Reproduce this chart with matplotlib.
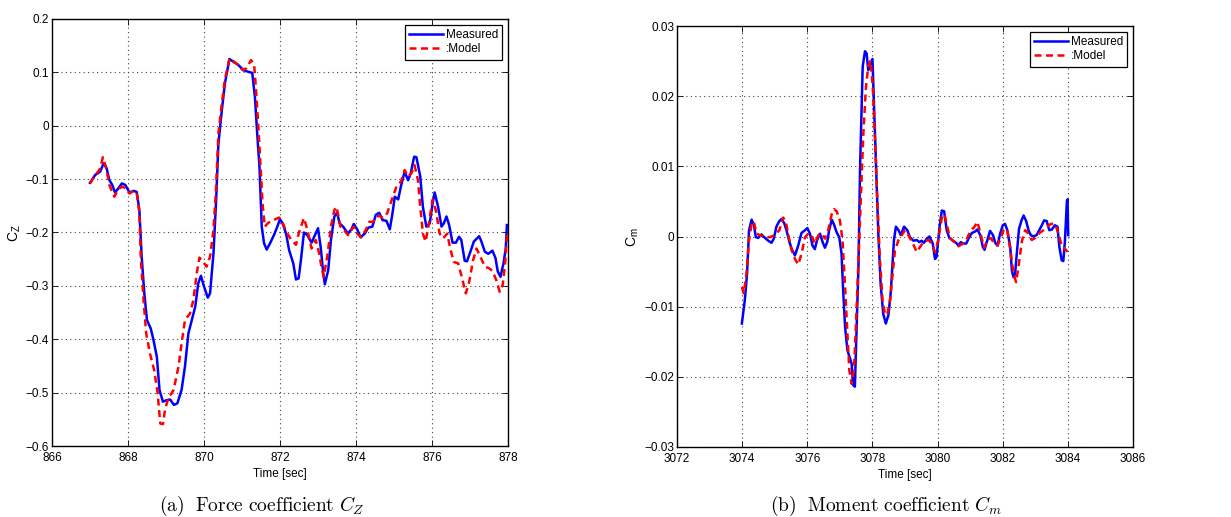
import numpy as np
import matplotlib.pyplot as plt

plt.rcParams['font.family'] = ['Liberation Sans', 'DejaVu Sans']
plt.rcParams['mathtext.fontset'] = 'cm'

# ---- panel (a): force coefficient C_Z ----
t_cz_meas = [867.0, 867.14, 867.27, 867.36, 867.44, 867.51, 867.58, 867.66, 867.75, 867.84,
             867.93, 868.04, 868.15, 868.23, 868.30, 868.36, 868.43, 868.50, 868.60, 868.67,
             868.76, 868.83, 868.92, 869.02, 869.11, 869.21, 869.30, 869.41, 869.50, 869.59,
             869.68, 869.77, 869.85, 869.92, 870.00, 870.10, 870.16, 870.25, 870.32, 870.38,
             870.47, 870.55, 870.67, 870.77, 870.90, 871.04, 871.17, 871.27, 871.34, 871.40,
             871.46, 871.52, 871.58, 871.65, 871.74, 871.84, 871.93, 872.00, 872.07, 872.16,
             872.24, 872.35, 872.42, 872.49, 872.55, 872.63, 872.72, 872.83, 872.92, 873.00,
             873.07, 873.14, 873.18, 873.27, 873.34, 873.43, 873.50, 873.57, 873.66, 873.79,
             873.88, 873.94, 874.03, 874.12, 874.23, 874.32, 874.43, 874.52, 874.61, 874.70,
             874.80, 874.89, 874.96, 875.02, 875.11, 875.18, 875.28, 875.37, 875.44, 875.53,
             875.59, 875.69, 875.76, 875.85, 875.94, 876.01, 876.07, 876.16, 876.25, 876.31,
             876.38, 876.45, 876.54, 876.63, 876.71, 876.77, 876.86, 876.92, 877.01, 877.10,
             877.24, 877.30, 877.39, 877.48, 877.59, 877.67, 877.73, 877.80, 877.88, 877.94,
             877.97]
cz_meas = [-0.107, -0.092, -0.086, -0.070, -0.080, -0.102, -0.110, -0.125, -0.117, -0.108,
           -0.111, -0.125, -0.122, -0.124, -0.158, -0.245, -0.314, -0.364, -0.380, -0.401,
           -0.433, -0.495, -0.517, -0.514, -0.513, -0.523, -0.520, -0.495, -0.451, -0.389,
           -0.364, -0.339, -0.295, -0.281, -0.301, -0.322, -0.314, -0.239, -0.139, -0.033,
           0.029, 0.079, 0.125, 0.120, 0.114, 0.104, 0.101, 0.099, 0.054, -0.014,
           -0.077, -0.189, -0.220, -0.232, -0.220, -0.205, -0.189, -0.175, -0.183, -0.202,
           -0.233, -0.258, -0.288, -0.286, -0.252, -0.200, -0.205, -0.219, -0.205, -0.192,
           -0.227, -0.277, -0.297, -0.270, -0.214, -0.170, -0.163, -0.183, -0.189, -0.202,
           -0.194, -0.184, -0.194, -0.209, -0.202, -0.191, -0.189, -0.167, -0.163, -0.177,
           -0.178, -0.194, -0.164, -0.133, -0.138, -0.114, -0.086, -0.102, -0.089, -0.058,
           -0.059, -0.095, -0.152, -0.189, -0.183, -0.148, -0.125, -0.152, -0.189, -0.183,
           -0.170, -0.186, -0.219, -0.219, -0.208, -0.214, -0.253, -0.254, -0.236, -0.217,
           -0.207, -0.217, -0.236, -0.240, -0.234, -0.248, -0.273, -0.283, -0.258, -0.230,
           -0.186]

t_cz_model = [867.0, 867.18, 867.27, 867.34, 867.43, 867.51, 867.64, 867.75, 867.84, 867.93,
              868.04, 868.15, 868.23, 868.30, 868.34, 868.41, 868.48, 868.58, 868.69, 868.78,
              868.85, 868.92, 868.98, 869.06, 869.20, 869.33, 869.41, 869.50, 869.63, 869.72,
              869.81, 869.88, 869.98, 870.07, 870.16, 870.25, 870.32, 870.38, 870.47, 870.55,
              870.67, 870.77, 870.90, 871.02, 871.12, 871.24, 871.32, 871.37, 871.43, 871.49,
              871.54, 871.60, 871.69, 871.82, 871.98, 872.08, 872.19, 872.30, 872.42, 872.50,
              872.63, 872.72, 872.83, 872.94, 873.03, 873.09, 873.15, 873.25, 873.34, 873.43,
              873.49, 873.59, 873.68, 873.79, 873.88, 873.94, 874.03, 874.14, 874.26, 874.35,
              874.45, 874.54, 874.63, 874.71, 874.82, 874.91, 875.00, 875.08, 875.18, 875.28,
              875.37, 875.46, 875.54, 875.63, 875.69, 875.76, 875.83, 875.92, 876.01, 876.10,
              876.20, 876.29, 876.40, 876.48, 876.57, 876.69, 876.77, 876.89, 876.98, 877.08,
              877.17, 877.27, 877.39, 877.50, 877.59, 877.69, 877.78, 877.86, 877.93, 877.97]
cz_model = [-0.108, -0.089, -0.080, -0.059, -0.080, -0.111, -0.133, -0.119, -0.114, -0.117,
            -0.127, -0.122, -0.125, -0.164, -0.252, -0.327, -0.389, -0.427, -0.458, -0.501,
            -0.558, -0.559, -0.530, -0.511, -0.495, -0.451, -0.408, -0.364, -0.352, -0.327,
            -0.276, -0.247, -0.255, -0.264, -0.245, -0.195, -0.114, -0.014, 0.042, 0.086,
            0.126, 0.121, 0.114, 0.104, 0.108, 0.123, 0.114, 0.067, -0.002, -0.077,
            -0.145, -0.189, -0.182, -0.177, -0.172, -0.184, -0.202, -0.214, -0.223, -0.200,
            -0.173, -0.195, -0.230, -0.214, -0.239, -0.264, -0.283, -0.242, -0.189, -0.158,
            -0.152, -0.189, -0.195, -0.205, -0.195, -0.189, -0.202, -0.209, -0.195, -0.180,
            -0.180, -0.170, -0.169, -0.173, -0.164, -0.145, -0.127, -0.111, -0.105, -0.083,
            -0.095, -0.089, -0.074, -0.102, -0.152, -0.202, -0.217, -0.183, -0.139, -0.158,
            -0.202, -0.211, -0.202, -0.230, -0.255, -0.258, -0.280, -0.314, -0.292, -0.252,
            -0.230, -0.245, -0.264, -0.267, -0.272, -0.289, -0.311, -0.298, -0.252, -0.202]

# ---- panel (b): moment coefficient C_m ----
t_cm_meas = [3073.99, 3074.08, 3074.15, 3074.21, 3074.29, 3074.36, 3074.42, 3074.49, 3074.59, 3074.70,
             3074.80, 3074.90, 3074.97, 3075.05, 3075.14, 3075.21, 3075.29, 3075.36, 3075.44, 3075.52,
             3075.62, 3075.72, 3075.82, 3075.93, 3076.00, 3076.08, 3076.16, 3076.23, 3076.30, 3076.39,
             3076.47, 3076.54, 3076.61, 3076.67, 3076.75, 3076.82, 3076.90, 3076.98, 3077.05, 3077.10,
             3077.16, 3077.23, 3077.31, 3077.36, 3077.41, 3077.46, 3077.51, 3077.57, 3077.62, 3077.70,
             3077.77, 3077.82, 3077.87, 3077.92, 3078.00, 3078.05, 3078.11, 3078.18, 3078.25, 3078.33,
             3078.41, 3078.49, 3078.56, 3078.62, 3078.66, 3078.72, 3078.80, 3078.87, 3078.97, 3079.07,
             3079.15, 3079.26, 3079.36, 3079.44, 3079.51, 3079.58, 3079.67, 3079.75, 3079.85, 3079.92,
             3079.97, 3080.06, 3080.13, 3080.20, 3080.28, 3080.36, 3080.47, 3080.57, 3080.64, 3080.71,
             3080.79, 3080.88, 3080.95, 3081.05, 3081.15, 3081.22, 3081.31, 3081.39, 3081.44, 3081.51,
             3081.61, 3081.70, 3081.77, 3081.84, 3081.92, 3082.00, 3082.07, 3082.14, 3082.23, 3082.28,
             3082.33, 3082.38, 3082.43, 3082.50, 3082.57, 3082.64, 3082.72, 3082.79, 3082.86, 3082.94,
             3083.04, 3083.12, 3083.20, 3083.27, 3083.35, 3083.43, 3083.51, 3083.60, 3083.68, 3083.74,
             3083.81, 3083.86, 3083.91, 3083.97, 3083.99, 3084.01]
cm_meas = [-0.0124, -0.0091, -0.0053, 0.0009, 0.0024, 0.0016, -0.0001, -0.0002, 0.0003, -0.0002,
           -0.0006, -0.0009, -0.0003, 0.0014, 0.0022, 0.0025, 0.0019, 0.0009, -0.0006, -0.0018,
           -0.0027, -0.0013, 0.0005, 0.0009, 0.0012, 0.0004, -0.0013, -0.0018, -0.0005, 0.0004,
           -0.0008, -0.0016, -0.0008, 0.0009, 0.0024, 0.0017, 0.0006, -0.0001, -0.0024, -0.0077,
           -0.0129, -0.0162, -0.0174, -0.0181, -0.0212, -0.0214, -0.0138, -0.0043, 0.0099, 0.0242,
           0.0264, 0.0261, 0.0237, 0.0244, 0.0253, 0.0185, 0.0099, 0.0004, -0.0067, -0.0110,
           -0.0124, -0.0112, -0.0081, -0.0034, -0.0005, 0.0014, 0.0009, 0.0002, 0.0014, 0.0009,
           -0.0001, -0.0006, -0.0005, -0.0008, -0.0006, -0.0009, -0.0003, 0.0000, -0.0010, -0.0032,
           -0.0029, 0.0014, 0.0037, 0.0036, 0.0009, -0.0002, -0.0006, -0.0009, -0.0013, -0.0008,
           -0.0010, -0.0010, -0.0003, 0.0005, 0.0007, 0.0010, 0.0002, -0.0015, -0.0019, -0.0008,
           0.0008, 0.0002, -0.0009, -0.0013, 0.0004, 0.0016, 0.0018, 0.0009, -0.0015, -0.0048,
           -0.0058, -0.0053, -0.0025, 0.0011, 0.0022, 0.0030, 0.0022, 0.0009, 0.0002, 0.0000,
           0.0002, 0.0009, 0.0016, 0.0023, 0.0022, 0.0009, 0.0010, 0.0016, 0.0014, -0.0015,
           -0.0034, -0.0035, -0.0006, 0.0051, 0.0053, 0.0002]

t_cm_model = [3073.99, 3074.05, 3074.13, 3074.21, 3074.29, 3074.36, 3074.44, 3074.54, 3074.70, 3074.85,
              3075.00, 3075.14, 3075.26, 3075.34, 3075.41, 3075.52, 3075.62, 3075.72, 3075.82, 3075.93,
              3076.03, 3076.13, 3076.23, 3076.34, 3076.44, 3076.54, 3076.64, 3076.75, 3076.82, 3076.90,
              3077.00, 3077.08, 3077.16, 3077.23, 3077.29, 3077.36, 3077.43, 3077.49, 3077.57, 3077.64,
              3077.72, 3077.80, 3077.87, 3077.94, 3078.01, 3078.08, 3078.15, 3078.23, 3078.31, 3078.39,
              3078.46, 3078.54, 3078.62, 3078.69, 3078.80, 3078.90, 3079.00, 3079.10, 3079.24, 3079.36,
              3079.46, 3079.58, 3079.72, 3079.82, 3079.92, 3080.02, 3080.13, 3080.21, 3080.28, 3080.38,
              3080.52, 3080.64, 3080.78, 3080.90, 3081.02, 3081.12, 3081.22, 3081.33, 3081.43, 3081.53,
              3081.63, 3081.73, 3081.84, 3081.94, 3082.04, 3082.14, 3082.25, 3082.33, 3082.41, 3082.48,
              3082.59, 3082.69, 3082.79, 3082.89, 3083.00, 3083.13, 3083.25, 3083.37, 3083.48, 3083.61,
              3083.71, 3083.81, 3083.92, 3083.99]
cm_model = [-0.0072, -0.0081, -0.0053, -0.0005, 0.0018, 0.0021, 0.0004, 0.0002, -0.0001, -0.0001,
            0.0002, 0.0009, 0.0027, 0.0021, 0.0004, -0.0020, -0.0032, -0.0040, -0.0025, -0.0001,
            0.0004, 0.0002, -0.0010, 0.0002, 0.0004, -0.0003, 0.0009, 0.0032, 0.0039, 0.0036,
            0.0023, -0.0005, -0.0072, -0.0138, -0.0191, -0.0210, -0.0191, -0.0129, -0.0034, 0.0051,
            0.0146, 0.0213, 0.0242, 0.0251, 0.0213, 0.0137, 0.0051, -0.0034, -0.0091, -0.0112,
            -0.0110, -0.0091, -0.0053, -0.0020, -0.0005, 0.0002, 0.0009, 0.0002, -0.0010, -0.0022,
            -0.0015, -0.0007, -0.0005, -0.0010, -0.0022, -0.0005, 0.0027, 0.0032, 0.0017, -0.0002,
            -0.0008, -0.0014, -0.0010, -0.0003, 0.0009, 0.0013, 0.0021, 0.0002, -0.0016, -0.0005,
            -0.0002, -0.0009, -0.0013, -0.0002, 0.0011, 0.0009, -0.0025, -0.0053, -0.0065, -0.0044,
            -0.0006, 0.0009, 0.0004, -0.0005, -0.0002, 0.0005, 0.0009, 0.0014, 0.0018, 0.0018,
            0.0004, -0.0013, -0.0018, -0.0022]

legend_labels = ['Measured', ':Model']


def style_axes(ax, xlim, ylim, xticks, yticks, yticklabels, ylabel):
    ax.set_xlim(xlim)
    ax.set_ylim(ylim)
    ax.set_xticks(xticks)
    ax.set_yticks(yticks)
    ax.set_yticklabels(yticklabels)
    ax.tick_params(direction='in', top=True, right=True, length=4, width=0.6,
                   labelsize=8.5)
    ax.tick_params(axis='x', pad=4)
    ax.tick_params(axis='y', pad=2)
    ax.grid(True, linestyle=(0, (1, 3)), color='#444444', linewidth=0.8)
    for s in ax.spines.values():
        s.set_linewidth(1.0)
    ax.set_xlabel('Time [sec]', fontsize=8.5, labelpad=3)
    ax.set_ylabel(ylabel, fontsize=10, labelpad=2)
    leg = ax.legend(legend_labels, loc='upper right', fontsize=8.5, fancybox=False,
                    framealpha=1, edgecolor='black', borderpad=0.35, labelspacing=0.2,
                    handlelength=2.9, handletextpad=0.2, borderaxespad=0.5)
    leg.get_frame().set_linewidth(0.9)


fig = plt.figure(figsize=(12.31, 5.17), dpi=100)

ax1 = fig.add_axes([0.0422, 0.1373, 0.3705, 0.826])
ax1.plot(t_cz_meas, cz_meas, color='#0000ff', linewidth=1.8)
ax1.plot(t_cz_model, cz_model, color='#ff0000', linewidth=1.8, linestyle='--', dashes=(2.8, 1.8))
cz_ticks = [-0.6, -0.5, -0.4, -0.3, -0.2, -0.1, 0, 0.1, 0.2]
cz_labels = ['\u22120.6', '\u22120.5', '\u22120.4', '\u22120.3', '\u22120.2', '\u22120.1', '0', '0.1', '0.2']
style_axes(ax1, (866, 878), (-0.6, 0.2), [866, 868, 870, 872, 874, 876, 878],
           cz_ticks, cz_labels, r'C$_\mathregular{Z}$')

ax2 = fig.add_axes([0.55, 0.1354, 0.3704, 0.8143])
ax2.plot(t_cm_meas, cm_meas, color='#0000ff', linewidth=1.8)
ax2.plot(t_cm_model, cm_model, color='#ff0000', linewidth=1.8, linestyle='--', dashes=(2.8, 1.8))
cm_ticks = [-0.03, -0.02, -0.01, 0, 0.01, 0.02, 0.03]
cm_labels = ['\u22120.03', '\u22120.02', '\u22120.01', '0', '0.01', '0.02', '0.03']
style_axes(ax2, (3072, 3086), (-0.03, 0.03), [3072, 3074, 3076, 3078, 3080, 3082, 3084, 3086],
           cm_ticks, cm_labels, r'C$_\mathregular{m}$')

fig.text(0.213, 0.022, r'$\mathrm{(a)\ \ Force\ coefficient}\ C_Z$', ha='center', va='center', fontsize=14)
fig.text(0.72, 0.022, r'$\mathrm{(b)\ \ Moment\ coefficient}\ C_m$', ha='center', va='center', fontsize=14)

fig.savefig('out.png', dpi=100)
